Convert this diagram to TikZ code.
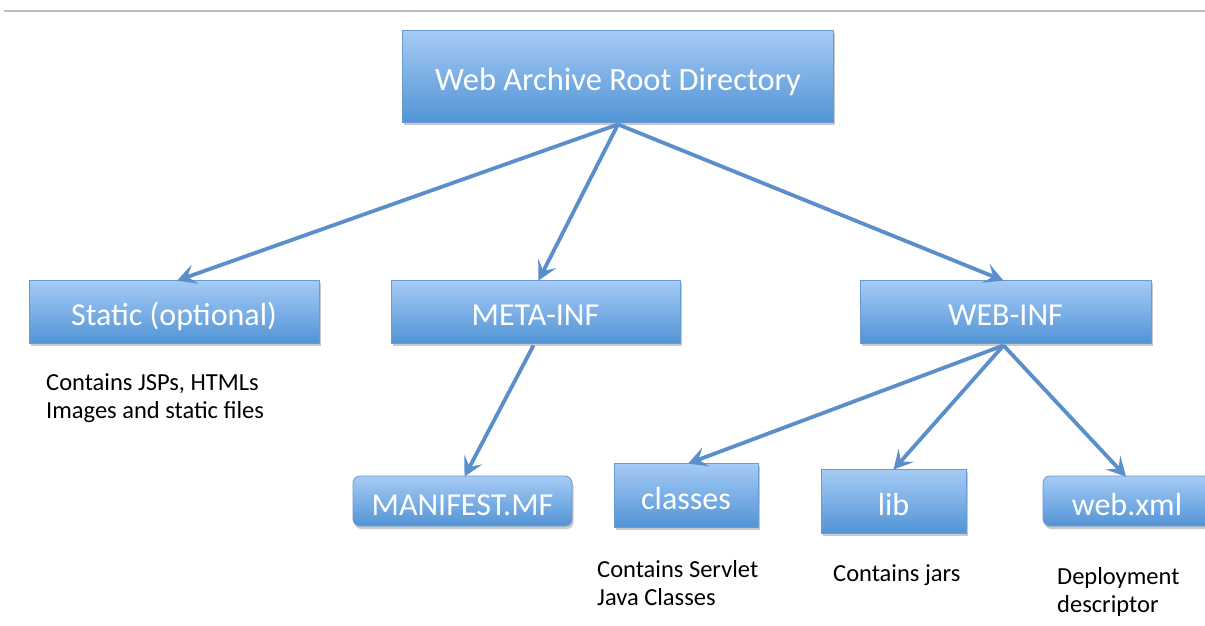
\documentclass[tikz,border=0pt]{standalone}
\usepackage{fontspec}
\setmainfont{Carlito}
\usetikzlibrary{arrows.meta,shadows}
\definecolor{boxtop}{HTML}{A6CBF5}
\definecolor{boxbot}{HTML}{5294D6}
\definecolor{boxedge}{HTML}{6A9AD0}
\definecolor{arrowblue}{HTML}{5A8FCB}
\definecolor{rulegray}{HTML}{BDBDBD}
\tikzset{
  boxstyle/.style={rectangle, draw=boxedge, line width=0.8pt, top color=boxtop, bottom color=boxbot,
    text=white, inner sep=0pt, font=\fontsize{32}{36}\selectfont, text height=28pt, text depth=0pt,
    drop shadow={shadow xshift=1.5pt, shadow yshift=-3pt, opacity=0.35, fill=black!60}},
  roundbox/.style={boxstyle, rounded corners=7pt},
  desc/.style={anchor=north west, align=left, text=black, inner sep=0pt, font=\fontsize{24.5}{28}\selectfont},
  conn/.style={draw=arrowblue, line width=3.8pt, -{Stealth[length=19pt,width=20pt,inset=8pt]}}
}
\begin{document}
\begin{tikzpicture}[x=1pt,y=-1pt]
\useasboundingbox (0,0) rectangle (1205,625);
\clip (0,0) rectangle (1205,625);
\fill[white] (0,0) rectangle (1205,625);
\coordinate (ruleA) at (4,11);
\coordinate (ruleB) at (1205,11);
\draw[rulegray, line width=1.2pt] (ruleA) -- (ruleB);

\node[boxstyle, minimum width=431pt, minimum height=92pt, font=\fontsize{32.5}{36}\selectfont, text height=29pt] (root) at (618,76) {Web Archive Root Directory};
\node[boxstyle, minimum width=290pt, minimum height=63pt] (static) at (174,311.5) {Static (optional)};
\node[boxstyle, minimum width=289pt, minimum height=63pt] (meta) at (535.5,311.5) {META-INF};
\node[boxstyle, minimum width=291pt, minimum height=63pt] (webinf) at (1005.5,311.5) {WEB-INF};
\node[roundbox, minimum width=219pt, minimum height=50pt] (manifest) at (462.5,501) {MANIFEST.MF};
\node[boxstyle, minimum width=144pt, minimum height=64pt] (classes) at (686,495) {classes};
\node[boxstyle, minimum width=145pt, minimum height=64pt] (lib) at (893.5,501) {lib};
\node[roundbox, minimum width=168pt, minimum height=50pt] (webxml) at (1127,501) {web.xml};

\node[desc] (dstatic) at (46,373) {Contains JSPs, HTMLs\\Images and static files};
\node[desc] (dclasses) at (597,560) {Contains Servlet\\Java Classes};
\node[desc] (dlib) at (833,564) {Contains jars};
\node[desc] (dwebxml) at (1057,567) {Deployment\\descriptor};

\draw[conn] ([yshift=-2pt]root.south) -- ([xshift=3pt,yshift=-1pt]static.north);
\draw[conn] ([yshift=-2pt]root.south) -- ([xshift=3pt,yshift=-1pt]meta.north);
\draw[conn] ([yshift=-2pt]root.south) -- ([xshift=-2pt,yshift=-1pt]webinf.north);
\draw[conn] ([xshift=-2pt,yshift=-2pt]meta.south) -- ([xshift=2pt,yshift=-1pt]manifest.north);
\draw[conn] ([xshift=-2pt,yshift=-2pt]webinf.south) -- ([xshift=2pt,yshift=-1pt]classes.north);
\draw[conn] ([xshift=-2pt,yshift=-2pt]webinf.south) -- ([yshift=-1pt]lib.north);
\draw[conn] ([xshift=-2pt,yshift=-2pt]webinf.south) -- ([xshift=-1pt,yshift=-1pt]webxml.north);
\end{tikzpicture}
\end{document}
